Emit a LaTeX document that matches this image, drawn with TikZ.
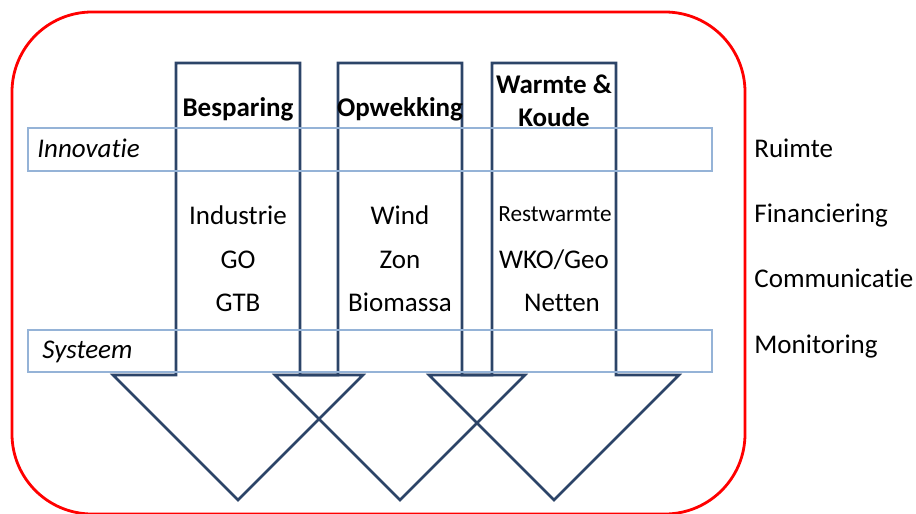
\documentclass[tikz,border=0pt]{standalone}
\usepackage{fontspec}
\setmainfont{Carlito}[RawFeature={-liga;-clig;-calt}]
\usepackage{tikz}
\usetikzlibrary{positioning}

\definecolor{donkerblauw}{RGB}{44,68,104}
\definecolor{lichtblauw}{RGB}{149,179,215}

\tikzset{
  pijl/.style={draw=donkerblauw, line width=1.3pt},
  band/.style={draw=lichtblauw, line width=1.3pt},
  rand/.style={draw=red, line width=1.4pt, rounded corners=40pt},
  kop/.style={font=\fontsize{13.5}{16}\selectfont\bfseries, anchor=base, inner sep=0pt},
  item/.style={font=\fontsize{13.5}{16}\selectfont, anchor=base, inner sep=0pt},
  laag/.style={font=\fontsize{13.5}{16}\selectfont\itshape, anchor=base west, inner sep=0pt},
  thema/.style={font=\fontsize{13.5}{16}\selectfont, anchor=base west, inner sep=0pt}
}

\begin{document}
\begin{tikzpicture}[x=0.5pt, y=-0.5pt]
        \useasboundingbox (0,0) rectangle (916,514);

        % outer frame
        \draw[rand] (12,12) rectangle (745,514);

        % three block arrows pointing down
        \foreach \c in {238,400,554} {
            \draw[pijl] (\c-62,63) -- (\c+62,63) -- (\c+62,375) -- (\c+125,375)
                -- (\c,500) -- (\c-125,375) -- (\c-62,375) -- cycle;
        }

        % horizontal layers
        \draw[band] (28,128) rectangle (712,171);
        \draw[band] (28,330) rectangle (712,372);

        \node (besparing) [kop] at (238,116) {Besparing};
        \node (opwekking) [kop] at (400,116) {Opwekking};
        \node (warmte) [kop] at (554,93) {Warmte \&};
        \node (koude) [kop] at (554,126) {Koude};

        \node (innovatie) [laag] at (37,157) {Innovatie};
        \node (systeem) [laag] at (42,358) {Systeem};

        \node (industrie) [item] at (238,224) {Industrie};
        \node (go) [item] at (238,268) {GO};
        \node (gtb) [item] at (238,311) {GTB};

        \node (wind) [item] at (400,224) {Wind};
        \node (zon) [item] at (400,268) {Zon};
        \node (biomassa) [item] at (400,311) {Biomassa};

        \node (restwarmte) [item, font=\fontsize{11.6}{14}\selectfont] at (555,221) {Restwarmte};
        \node (wko) [item] at (554,268) {WKO/Geo};
        \node (netten) [item] at (562,311) {Netten};

        \node (ruimte) [thema] at (754,157) {Ruimte};
        \node (financiering) [thema] at (754,222) {Financiering};
        \node (communicatie) [thema] at (754,287) {Communicatie};
        \node (monitoring) [thema] at (754,353) {Monitoring};
    \end{tikzpicture}
\end{document}
